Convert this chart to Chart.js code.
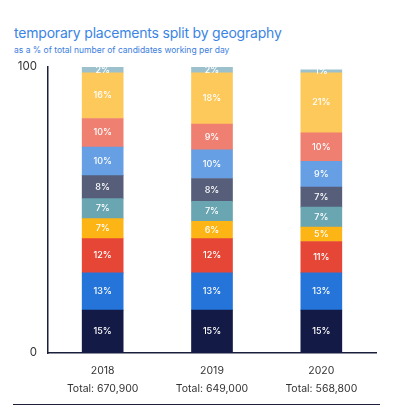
<!DOCTYPE html>
<html>
<head>
<meta charset="utf-8">
<script src="https://cdn.jsdelivr.net/npm/chart.js@4"></script>
<style>
  html, body { margin: 0; padding: 0; background: #fff; }
  #wrap { position: relative; width: 412px; height: 415px; overflow: hidden; font-family: Inter, "Open Sans", sans-serif; }
  #title { position: absolute; left: 14px; top: 24px; font-size: 14px; line-height: 17px; color: #3a84e4; letter-spacing: -0.2px; }
  #subtitle { position: absolute; left: 14px; top: 45px; font-size: 8.5px; color: #3c7ee0; }
  #rule { position: absolute; left: 13px; top: 404px; width: 367px; border-top: 1.5px solid #1b1f3b; }
  canvas { position: absolute; left: 0; top: 0; }
</style>
</head>
<body>
<div id="wrap">
  <div id="title">temporary placements split by geography</div>
  <div id="subtitle">as a % of total number of candidates working per day</div>
  <canvas id="chart" width="412" height="415"></canvas>
  <div id="rule"></div>
</div>
<script>
/* data, bottom segment first */
const years = ['2018', '2019', '2020'];
const totals = ['Total: 670,900', 'Total: 649,000', 'Total: 568,800'];
const yTicks = [0, 100];

const seg1 = [15, 15, 15];
const seg2 = [13, 13, 13];
const seg3 = [12, 12, 11];
const seg4 = [7, 6, 5];
const seg5 = [7, 7, 7];
const seg6 = [8, 8, 7];
const seg7 = [10, 10, 9];
const seg8 = [10, 9, 10];
const seg9 = [16, 18, 21];
const seg10 = [2, 2, 1];

const segColors = ['#131a45', '#2474d9', '#e64636', '#fdb515', '#6aa5b2',
                   '#565e7a', '#669fe3', '#ef7f70', '#fec95b', '#9cc1cc'];
const segData = [seg1, seg2, seg3, seg4, seg5, seg6, seg7, seg8, seg9, seg10];

// white % text in the middle of each segment
const segLabels = {
    id: 'segLabels',
    afterDatasetsDraw(chart) {
        const ctx = chart.ctx;
        ctx.save();
        ctx.fillStyle = '#ffffff';
        ctx.font = '500 9px Inter, sans-serif';
        ctx.textAlign = 'center';
        ctx.textBaseline = 'middle';
        chart.data.datasets.forEach((ds, i) => {
            chart.getDatasetMeta(i).data.forEach((bar, j) => {
                const y = (bar.y + bar.base) / 2;
                ctx.fillText(ds.data[j] + '%', bar.x, y);
            });
        });
        ctx.restore();
    }
};

new Chart(document.getElementById('chart'), {
    type: 'bar',
    data: {
        labels: years.map((y, i) => [y, totals[i]]),
        datasets: segData.map((d, i) => ({
            data: d,
            backgroundColor: segColors[i],
            borderWidth: 0,
            barThickness: 41
        }))
    },
    options: {
        responsive: false,
        animation: false,
        events: [],
        layout: { padding: { top: 67, right: 36, bottom: 17, left: 0 } },
        plugins: { legend: { display: false }, tooltip: { enabled: false } },
        scales: {
            x: {
                stacked: true,
                grid: { display: false, drawTicks: false },
                border: { display: true, color: '#1b1f3b', width: 1.5 },
                ticks: { color: '#333', padding: 9, font: { family: 'Inter', size: 10.5, lineHeight: 1.7 } },
                afterFit(s) { s.height = 45; }
            },
            y: {
                stacked: true,
                min: 0,
                max: 100,
                grid: { display: false, drawTicks: false },
                border: { display: true, color: '#1b1f3b', width: 1.5 },
                afterBuildTicks(s) { s.ticks = yTicks.map(v => ({ value: v })); },
                ticks: { color: '#333', padding: 11, font: { family: 'Inter', size: 11.5 } },
                afterFit(s) { s.width = 48; }
            }
        }
    },
    plugins: [segLabels]
});
</script>
</body>
</html>
